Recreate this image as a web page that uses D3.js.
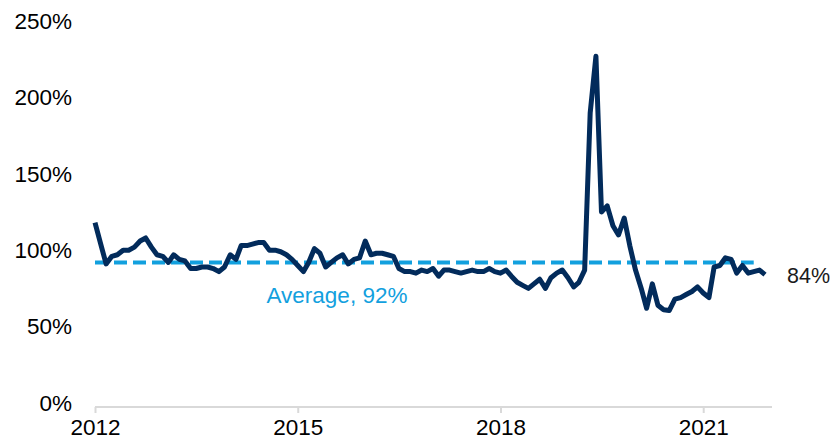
<!DOCTYPE html>
<html>
<head>
<meta charset="utf-8">
<script src="https://cdn.jsdelivr.net/npm/d3@7"></script>
<style>
  body { margin: 0; background: #fff; }
  svg { display: block; font-family: Arial, "Liberation Sans", sans-serif; }
</style>
</head>
<body>
<svg id="chart" width="836" height="440"></svg>
<script>
// monthly ratio, Jan 2012 .. Dec 2021 (%)
const startMonth = [2012, 0];
const ratio = [
  118, 104, 91, 96, 97, 100, 100, 102, 106, 108, 102, 97,
  96, 92, 97, 94, 93, 88, 88, 89, 89, 88, 86, 89,
  97, 94, 103, 103, 104, 105, 105, 100, 100, 99, 97, 94,
  90, 86, 92, 101, 98, 89, 92, 95, 97, 91, 94, 95,
  106, 97, 98, 98, 97, 96, 88, 86, 86, 85, 87, 86,
  88, 83, 87, 87, 86, 85, 86, 87, 86, 86, 88, 86,
  85, 87, 83, 79, 77, 75, 78, 81, 75, 82, 85, 87,
  82, 76, 79, 87, 190, 227, 125, 129, 116, 110, 121, 103,
  87, 75, 62, 78, 64, 61, 60.5, 68, 69, 71, 73, 76,
  72, 69, 89, 90, 95, 94, 85, 90, 85, 86, 87, 84
];
const average = 92;
const averageSpan = [[2012, 0], [2021, 9]];
const yTicks = [0, 50, 100, 150, 200, 250];
const xTickYears = [2012, 2015, 2018, 2021];

const navy = '#022b5b';
const cyan = '#12a0de';

const svg = d3.select('#chart');

const dates = ratio.map((v, i) => new Date(startMonth[0], startMonth[1] + i, 1));
const series = ratio.map((v, i) => ({date: dates[i], value: v}));

const x = d3.scaleTime()
  .domain([dates[0], dates[dates.length - 1]])
  .range([95, 765]);

const y = d3.scaleLinear()
  .domain([0, 250])
  .range([403, 21]);

// y labels
const yAxis = svg.append('g')
  .attr('transform', 'translate(75,0)')
  .call(d3.axisLeft(y).tickValues(yTicks).tickSize(0).tickPadding(3)
    .tickFormat(d => d + '%'));
yAxis.select('.domain').remove();
yAxis.selectAll('text')
  .attr('font-size', 22.5)
  .attr('fill', '#000')
  .attr('font-family', 'Arial, "Liberation Sans", sans-serif');

// x axis
const xAxis = svg.append('g')
  .attr('transform', 'translate(0,' + (y(0) + 4) + ')')
  .call(d3.axisBottom(x)
    .tickValues(xTickYears.map(yr => new Date(yr, 0, 1)))
    .tickSize(6).tickPadding(6)
    .tickFormat(d3.timeFormat('%Y')));
xAxis.select('.domain')
  .attr('d', 'M' + x.range()[0] + ',0H' + (x.range()[1] + 7))
  .attr('stroke', '#d9d9d9')
  .attr('stroke-width', 2);
xAxis.selectAll('.tick line')
  .attr('stroke', '#d9d9d9')
  .attr('stroke-width', 2);
xAxis.selectAll('text')
  .attr('font-size', 22.5)
  .attr('fill', '#000')
  .attr('font-family', 'Arial, "Liberation Sans", sans-serif');

// average line
const avgDates = averageSpan.map(d => new Date(d[0], d[1], 1));
svg.append('line')
  .attr('x1', x(avgDates[0]))
  .attr('x2', x(avgDates[1]))
  .attr('y1', y(average))
  .attr('y2', y(average))
  .attr('stroke', cyan)
  .attr('stroke-width', 4)
  .attr('stroke-dasharray', '13,6');

// ratio line
const line = d3.line()
  .x(d => x(d.date))
  .y(d => y(d.value));

svg.append('path')
  .datum(series)
  .attr('fill', 'none')
  .attr('stroke', navy)
  .attr('stroke-width', 5)
  .attr('stroke-linejoin', 'round')
  .attr('d', line);

// labels
svg.append('text')
  .attr('x', x(new Date(2015, 7, 1)))
  .attr('y', y(average) + 41)
  .attr('text-anchor', 'middle')
  .attr('font-size', 22.5)
  .attr('fill', cyan)
  .text('Average, ' + average + '%');

const last = series[series.length - 1];
svg.append('text')
  .attr('x', x(last.date) + 22)
  .attr('y', y(last.value) + 8)
  .attr('font-size', 21.5)
  .attr('fill', '#1a1a1a')
  .text(last.value + '%');
</script>
</body>
</html>
